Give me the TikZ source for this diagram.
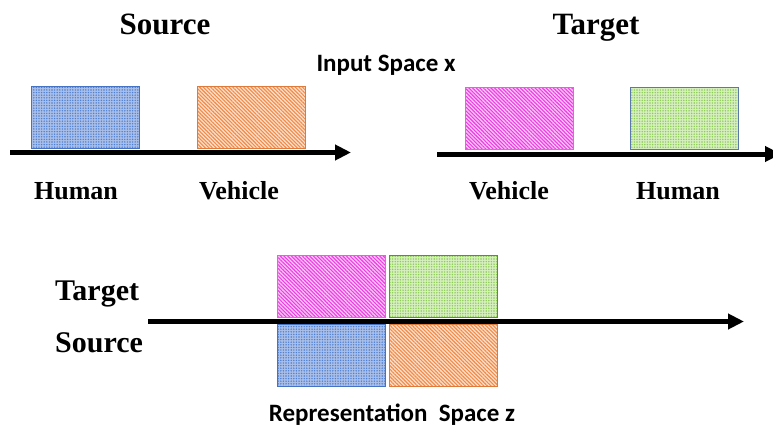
\documentclass[tikz,border=0pt]{standalone}
\usepackage{fontspec}
\setmainfont{Liberation Serif}
\newfontfamily\labelsans{Carlito}
\usetikzlibrary{arrows.meta,patterns.meta}

\definecolor{bluebd}{HTML}{4472C4}
\definecolor{bluebg}{HTML}{A9BFE8}
\definecolor{bluept}{HTML}{4F7FD0}
\definecolor{orangebd}{HTML}{E07A3A}
\definecolor{orangebg}{HTML}{FCE0CC}
\definecolor{orangept}{HTML}{F28A48}
\definecolor{pinkbd}{HTML}{C08A6A}
\definecolor{pinkbg}{HTML}{FBC8F6}
\definecolor{pinkpt}{HTML}{EE3CE6}
\definecolor{greenbd}{HTML}{5A78A8}
\definecolor{greenbg}{HTML}{D6EFBE}
\definecolor{greenpt}{HTML}{8CCB55}

\tikzset{
  box/.style={draw, line width=0.9pt, minimum width=108pt, minimum height=62pt,
    inner sep=0pt, anchor=north west},
  humanbox/.style={box, draw=bluebd, preaction={fill=bluebg},
    pattern={Dots[distance=2.6pt, radius=0.8pt]}, pattern color=bluept},
  vehiclebox/.style={box, draw=orangebd, preaction={fill=orangebg},
    pattern={Lines[angle=-45, distance=2.6pt, line width=1.1pt]}, pattern color=orangept},
  tvehiclebox/.style={box, draw=pinkbd, preaction={fill=pinkbg},
    pattern={Lines[angle=-45, distance=2.6pt, line width=1.1pt]}, pattern color=pinkpt},
  thumanbox/.style={box, draw=greenbd, preaction={fill=greenbg},
    pattern={Dots[distance=2.6pt, radius=0.8pt]}, pattern color=greenpt},
  axis/.style={line width=5pt, -{Triangle[length=16pt, width=15pt]}},
  title/.style={font=\bfseries\fontsize{31}{33}\selectfont, anchor=base, inner sep=0pt},
  sidetitle/.style={font=\bfseries\fontsize{30}{32}\selectfont, anchor=base west, inner sep=0pt},
  cls/.style={font=\bfseries\fontsize{26}{28}\selectfont, anchor=base, inner sep=0pt},
  space/.style={font=\labelsans\bfseries\fontsize{25}{27}\selectfont, anchor=base, inner sep=0pt},
}

\begin{document}
\begin{tikzpicture}[x=1pt, y=-1pt]
  \useasboundingbox (0,0) rectangle (773,428);
  \clip (0,0) rectangle (773,428);
  \fill[white] (0,0) rectangle (773,428);

  % headings
  \node[title] (srcT) at (165,35) {Source};
  \node[title] (tgtT) at (596,35) {Target};
  \node[space] (inspace) at (386,71) {Input Space x};

  % source domain in input space
  \node[humanbox] (sh) at (31,86) {};
  \node[vehiclebox] (sv) at (197,86) {};
  \coordinate (a1s) at (10,152.5);
  \coordinate (a1e) at (351,152.5);
  \draw[axis] (a1s) -- (a1e);
  \node[cls] (shl) at (76,199) {Human};
  \node[cls] (svl) at (239,199) {Vehicle};

  % target domain in input space
  \node[tvehiclebox] (tv) at (465,87) {};
  \node[thumanbox] (th) at (630,87) {};
  \coordinate (a2s) at (437,154);
  \coordinate (a2e) at (781,154);
  \draw[axis] (a2s) -- (a2e);
  \node[cls] (tvl) at (509,199) {Vehicle};
  \node[cls] (thl) at (678,199) {Human};

  % shared representation space
  \node[tvehiclebox] (rtv) at (277,255) {};
  \node[thumanbox] (rth) at (389,255) {};
  \node[humanbox] (rsh) at (277,324) {};
  \node[vehiclebox] (rsv) at (389,324) {};
  \coordinate (a3s) at (148,321.5);
  \coordinate (a3e) at (744,321.5);
  \draw[axis] (a3s) -- (a3e);
  \node[sidetitle] (rtl) at (55,300) {Target};
  \node[sidetitle] (rsl) at (55,352) {Source};
  \node[space] (repspace) at (392,421) {Representation\ \ Space z};
\end{tikzpicture}
\end{document}
